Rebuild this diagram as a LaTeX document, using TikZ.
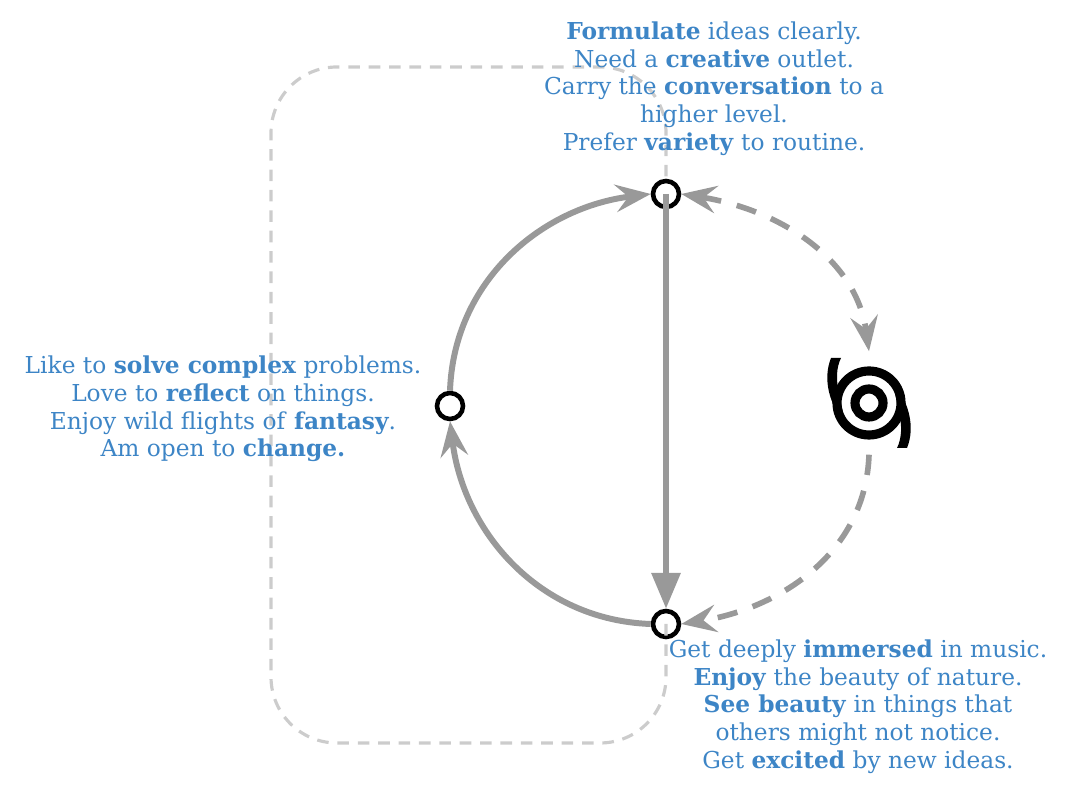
\documentclass[tikz,border=0pt]{standalone}
\usepackage{fontspec}
\setmainfont{DejaVu Serif}
\usetikzlibrary{arrows.meta}

\definecolor{notecol}{HTML}{3D85C6}
\definecolor{flowcol}{HTML}{999999}
\definecolor{loopcol}{HTML}{CCCCCC}

\tikzset{
    hubdot/.style={circle, draw=black, line width=1.3pt, minimum size=.26cm, inner sep=0pt},
    eyedot/.style={circle, minimum size=1.02cm, inner sep=0pt},
    note/.style={text=notecol, align=center, font=\fontsize{6.63}{7.88}\selectfont, inner sep=0pt},
    notched/.tip={Stealth[length=10pt, width=7.8pt, inset=3.6pt]},
    solidflow/.style={flowcol, line width=1.7pt},
    dashflow/.style={flowcol, line width=1.6pt, dash pattern=on 5.8pt off 4.6pt},
    loopline/.style={loopcol, line width=.9pt, dash pattern=on 3.3pt off 2.5pt, rounded corners=.66cm},
    spiral/.style={black, line width=2.6pt}
}

\begin{document}
\begin{tikzpicture}

    \useasboundingbox (0,0) rectangle (10.69,7.86);

    \def\xleft{4.50}
    \def\xmid{6.66}
    \def\xeye{8.69}
    \def\ytop{5.92}
    \def\ymid{3.80}
    \def\ybot{1.62}

    % Hubs
    \node[hubdot] (top) at (\xmid, \ytop) {};
    \node[hubdot] (left) at (\xleft, \ymid) {};
    \node[hubdot] (bot) at (\xmid, \ybot) {};
    \node[eyedot] (eye) at (\xeye, 3.83) {};

    % Long way round
    \coordinate (loopbr) at (\xmid, 0.43);
    \coordinate (loopbl) at (2.71, 0.43);
    \coordinate (looptl) at (2.71, 7.19);
    \coordinate (looptr) at (\xmid, 7.19);
    \draw[loopline] (bot.center) -- (loopbr) -- (loopbl) -- (looptl) -- (looptr) -- (top);

    % Notes
    \node[note] (notetop) at (7.14, 6.975) {\textbf{Formulate} ideas clearly.\\Need a \textbf{creative} outlet.\\Carry the \textbf{conversation} to a\\higher level.\\Prefer \textbf{variety} to routine.};
    \node[note] (noteleft) at (2.23, 3.77) {Like to \textbf{solve complex} problems.\\Love to \textbf{reflect} on things.\\Enjoy wild flights of \textbf{fantasy}.\\Am open to \textbf{change.}};
    \node[note] (notebot) at (8.58, 0.795) {Get deeply \textbf{immersed} in music.\\\textbf{Enjoy} the beauty of nature.\\\textbf{See beauty} in things that\\others might not notice.\\Get \textbf{excited} by new ideas.};

    % Solid arcs
    \draw[solidflow, -{notched}] (left.north) to[out=88, in=187] (top.west);
    \draw[solidflow, -{notched}] (bot.west) to[out=178, in=-83] (left.south);
    \draw[solidflow, -{Stealth[length=10.2pt, width=8pt, inset=0pt]}] (top.center) -- (bot.north);

    % Dashed arcs
    \draw[dashflow, {notched}-{notched}] (top.east) to[out=-9, in=98] (eye.north);
    \draw[dashflow, -{notched}] (eye.south) to[out=-92, in=9] (bot.east);

    % Spiral
    \begin{scope}[shift={(eye.center)}]
        \draw[spiral] (0,0) circle (.14);
        \draw[spiral] (0,0) circle (.32);
        \foreach \ang in {0,180}{
            \fill[black, rotate=\ang] (-.38,.45) .. controls (-.46,.25) and (-.42,-.02) .. (-.17,-.30) -- (-.25,-.15) -- (-.30,.10) .. controls (-.33,.22) and (-.33,.35) .. (-.28,.45) -- cycle;
        }
    \end{scope}

\end{tikzpicture}
\end{document}
